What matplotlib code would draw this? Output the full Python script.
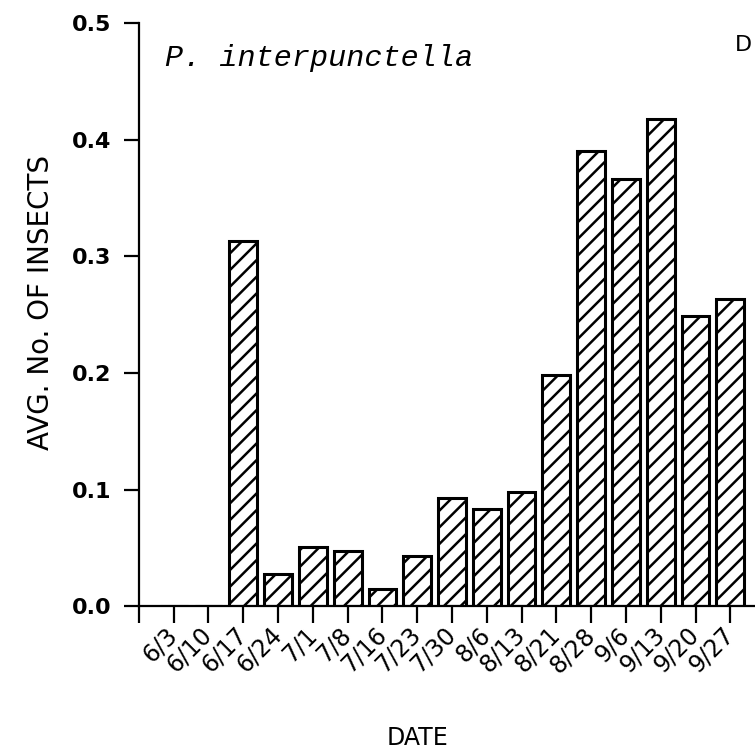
import numpy as np
import matplotlib.pyplot as plt

# weekly trap dates and mean catch
dates = ['6/3', '6/10', '6/17', '6/24', '7/1', '7/8', '7/16', '7/23', '7/30',
         '8/6', '8/13', '8/21', '8/28', '9/6', '9/13', '9/20', '9/27']
avg_insects = [0.0, 0.0, 0.313, 0.028, 0.051, 0.047, 0.015, 0.043, 0.093,
               0.083, 0.098, 0.198, 0.39, 0.366, 0.418, 0.249, 0.263]
yticks = [0.0, 0.1, 0.2, 0.3, 0.4, 0.5]

plt.rcParams['hatch.linewidth'] = 1.8

fig = plt.figure(figsize=(7.55, 7.53), dpi=100)
ax = fig.add_axes([0.184, 0.195, 0.857, 0.7745])

x = np.arange(len(dates))
ax.bar(x, avg_insects, width=0.8, color='white', edgecolor='black',
       linewidth=2.2, hatch='//')

ax.set_xlim(-1, 17.6)
ax.set_ylim(0, 0.5)
ax.spines['top'].set_visible(False)
ax.spines['right'].set_visible(False)
ax.spines['left'].set_linewidth(1.6)
ax.spines['bottom'].set_linewidth(1.6)

ax.set_yticks(yticks)
ax.set_yticklabels([f'{v:.1f}' for v in yticks], fontsize=16,
                   fontweight='bold')
ax.set_xticks(np.concatenate([[-1], x]))
ax.set_xticklabels([''] + dates, fontsize=17, rotation=45, ha='right',
                   va='center', rotation_mode='anchor')
ax.tick_params(axis='y', direction='out', length=11, width=1.6, pad=9)
ax.tick_params(axis='x', direction='out', length=12, width=1.6, pad=6)

ax.set_ylabel('AVG. No. OF INSECTS', fontsize=20)
ax.yaxis.set_label_coords(-0.13, 0.52)
fig.text(0.553, 0.02, 'DATE', fontsize=17, ha='center', va='center')

ax.text(0.04, 0.94, 'P. interpunctella', transform=ax.transAxes,
        family='Liberation Mono', style='italic', fontsize=21.7,
        ha='left', va='center')
fig.text(0.973, 0.94, 'D', fontsize=16, ha='left', va='center')

fig.savefig('out.png', dpi=100)
